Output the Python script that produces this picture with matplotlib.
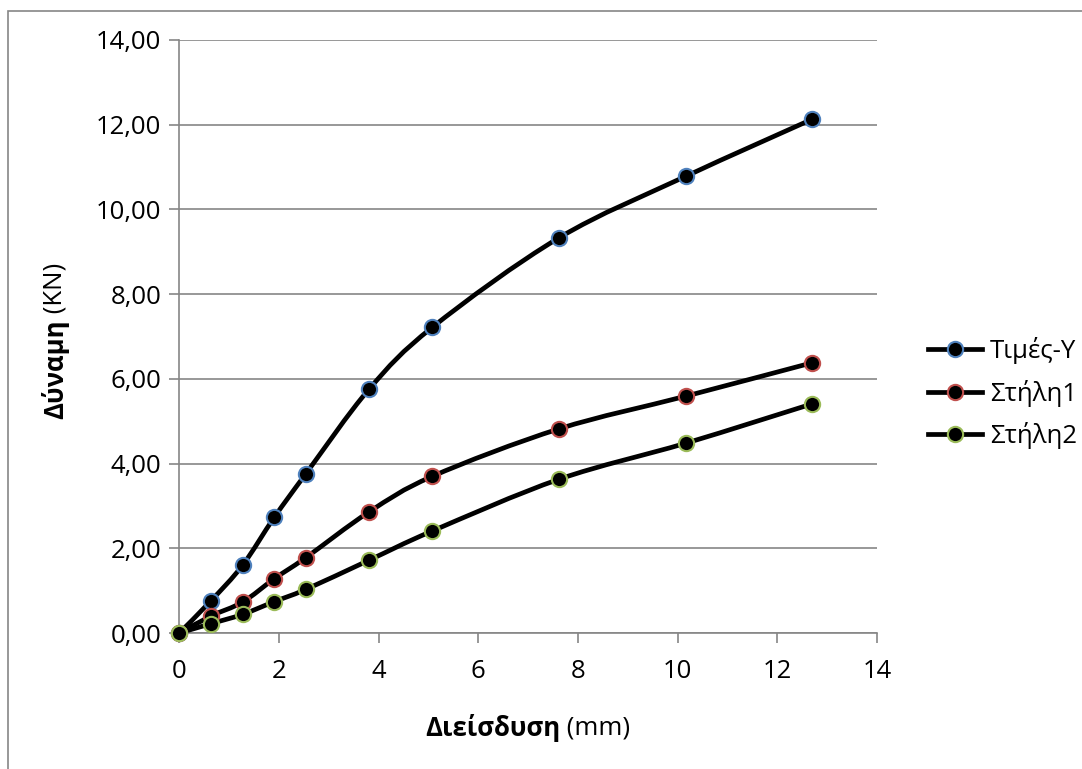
import numpy as np
import matplotlib.pyplot as plt
from matplotlib.path import Path
from matplotlib.patches import PathPatch, Rectangle
from matplotlib.lines import Line2D
from matplotlib.ticker import FuncFormatter

plt.rcParams['font.family'] = ['Open Sans', 'DejaVu Sans']

# penetration (mm)
x = [0, 0.635, 1.27, 1.905, 2.54, 3.81, 5.08, 7.62, 10.16, 12.7]
# load (KN)
y_values = [0, 0.76, 1.60, 2.73, 3.76, 5.76, 7.22, 9.33, 10.78, 12.13]
col1 = [0, 0.40, 0.73, 1.28, 1.78, 2.86, 3.70, 4.82, 5.59, 6.38]
col2 = [0, 0.22, 0.44, 0.74, 1.03, 1.72, 2.41, 3.63, 4.48, 5.41]
labels = ['Τιμές-Υ', 'Στήλη1', 'Στήλη2']
edge_colors = ['#4F81BD', '#C0504D', '#9BBB59']

x_ticks = [0, 2, 4, 6, 8, 10, 12, 14]
y_ticks = [0, 2, 4, 6, 8, 10, 12, 14]

gray = '#868686'
fs = 18.5


def smooth_path(xs, ys):
    # excel-like smoothed line: catmull-rom segments as cubic beziers
    pts = np.column_stack([xs, ys]).astype(float)
    n = len(pts)
    verts = [pts[0]]
    codes = [Path.MOVETO]
    for i in range(n - 1):
        p0 = pts[i - 1] if i > 0 else pts[i]
        p1 = pts[i]
        p2 = pts[i + 1]
        p3 = pts[i + 2] if i + 2 < n else pts[i + 1]
        c1 = p1 + (p2 - p0) / 6.0
        c2 = p2 - (p3 - p1) / 6.0
        verts += [c1, c2, p2]
        codes += [Path.CURVE4] * 3
    return Path(verts, codes)


fig = plt.figure(figsize=(10.82, 7.69), dpi=100)
fig.patches.append(Rectangle((8 / 1082, -0.1), 1.2, 1 - 11 / 769 + 0.1,
                             transform=fig.transFigure, fill=False,
                             edgecolor=gray, lw=1.2))
ax = fig.add_axes([179.3 / 1082, 1 - 633 / 769, (877 - 179.3) / 1082, (633 - 40) / 769])

series = [y_values, col1, col2]
handles = []
for ys, ec, lab in zip(series, edge_colors, labels):
    ax.add_patch(PathPatch(smooth_path(x, ys), fill=False, edgecolor='black',
                           lw=3.4, capstyle='round', joinstyle='round', zorder=3))
    ax.plot(x, ys, linestyle='none', marker='o', markersize=11,
            markerfacecolor='black', markeredgecolor=ec, markeredgewidth=1.5,
            zorder=4, clip_on=False)
    handles.append(Line2D([], [], color='black', lw=3.4, marker='o', markersize=11,
                          markerfacecolor='black', markeredgecolor=ec,
                          markeredgewidth=1.5, label=lab))

ax.set_xlim(0, 14)
ax.set_ylim(0, 14)
ax.set_xticks(x_ticks)
ax.set_yticks(y_ticks)
ax.yaxis.set_major_formatter(FuncFormatter(lambda v, p: ('%.2f' % v).replace('.', ',')))
ax.xaxis.set_major_formatter(FuncFormatter(lambda v, p: '%d' % v))
ax.grid(axis='y', color=gray, lw=1.2)
ax.set_axisbelow(True)
for s in ['top', 'right']:
    ax.spines[s].set_visible(False)
for s in ['left', 'bottom']:
    ax.spines[s].set_color(gray)
    ax.spines[s].set_linewidth(1.2)
ax.tick_params(axis='both', direction='out', length=7, width=1.2, color=gray,
               labelsize=fs, labelcolor='black')
ax.tick_params(axis='x', pad=12)
ax.tick_params(axis='y', pad=6)

# axis titles: bold word + regular unit
tx = fig.text(0.5, 0, 'Διείσδυση', fontsize=fs, fontweight='bold', va='center', ha='left')
ux = fig.text(0.5, 0, ' (mm)', fontsize=fs, va='center', ha='left')
ty = fig.text(55 / 1082, 0, 'Δύναμη', fontsize=fs, fontweight='bold', rotation=90,
              va='center', ha='center')
uy = fig.text(55 / 1082, 0, ' (KN)', fontsize=fs, rotation=90, va='center', ha='center')

fig.canvas.draw()
r = fig.canvas.get_renderer()
w1 = tx.get_window_extent(r).width
w2 = ux.get_window_extent(r).width
xc = 528.0
start = xc - (w1 + w2) / 2
tx.set_position((start / 1082, 1 - 728 / 769))
ux.set_position(((start + w1) / 1082, 1 - 728 / 769))
h1 = ty.get_window_extent(r).height
h2 = uy.get_window_extent(r).height
yc = 769 - 341.0  # display coords from bottom
bottom = yc - (h1 + h2) / 2
ty.set_position((55 / 1082, (bottom + h1 / 2) / 769))
uy.set_position((55 / 1082, (bottom + h1 + h2 / 2) / 769))

fig.legend(handles=handles, loc='center left', bbox_to_anchor=(928 / 1082, 1 - 393 / 769),
           frameon=False, fontsize=fs, handlelength=2.1, handletextpad=0.3,
           labelspacing=0.6, borderpad=0, borderaxespad=0)

fig.savefig('out.png', dpi=100)
